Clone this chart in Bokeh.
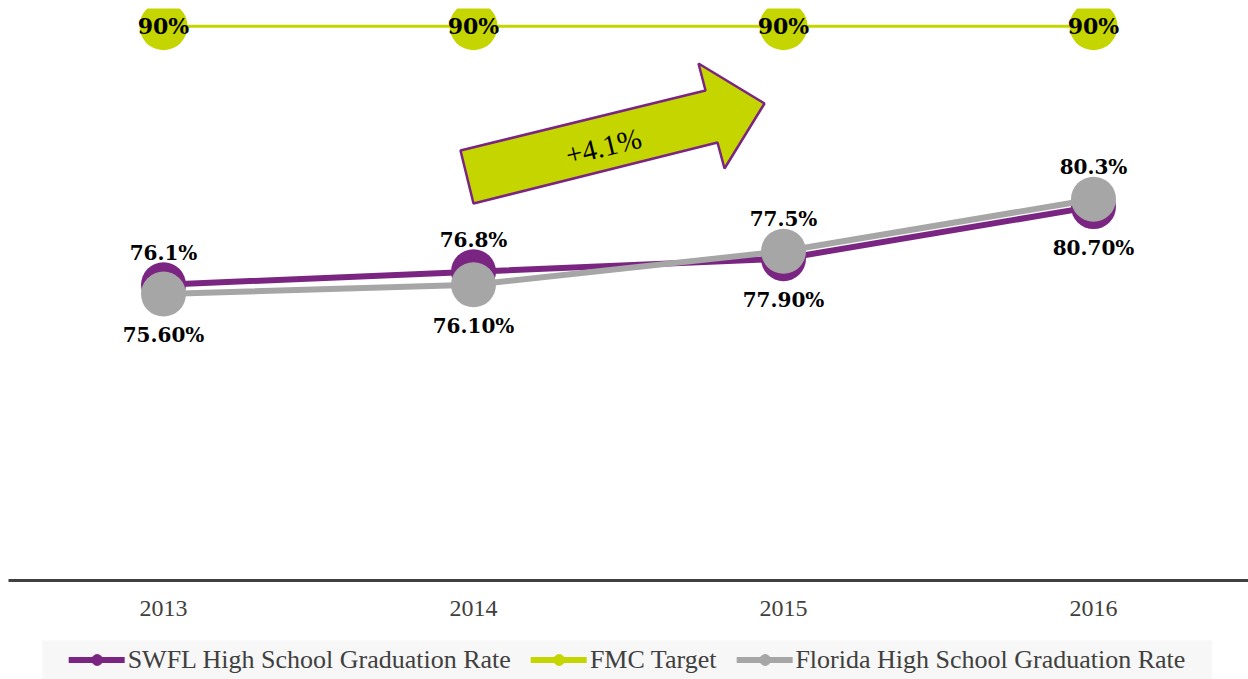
import numpy as np
from bokeh.plotting import figure
from bokeh.layouts import column, row
from bokeh.models import Range1d, FixedTicker, Legend, LegendItem, Spacer
from bokeh.core.properties import value
from bokeh.embed import file_html
from bokeh.resources import INLINE

# ---------------- data ----------------
years = [2013, 2014, 2015, 2016]
tick_labels = ["2013", "2014", "2015", "2016"]
swfl_rate = [76.1, 76.8, 77.5, 80.3]
florida_rate = [75.6, 76.1, 77.9, 80.7]
fmc_target = [90, 90, 90, 90]
swfl_labels = ["76.1%", "76.8%", "77.5%", "80.3%"]
florida_labels = ["75.60%", "76.10%", "77.90%", "80.70%"]
target_labels = ["90%", "90%", "90%", "90%"]
change_label = "+4.1%"
series_names = ["SWFL High School Graduation Rate", "FMC Target",
                "Florida High School Graduation Rate"]

# ---------------- style ----------------
PURPLE = "#7B2583"
LIME = "#C5D500"
GRAY = "#A6A6A6"
DARK = "#404040"
LEGEND_BG = "#F7F7F7"
SERIF = "Liberation Serif"
BOLD_SERIF = "DejaVu Serif"

X0, X1 = 2012.5, 2016.5
Y0, Y1 = 60.2, 90.95
FW, FH = 1240, 572
PAGE_LEFT, PAGE_TOP = 8, 8
BOTTOM_SPACE = 60

p = figure(frame_width=FW, frame_height=FH,
           x_range=Range1d(X0, X1), y_range=Range1d(Y0, Y1),
           output_backend="svg", toolbar_location=None,
           y_axis_location=None, min_border=0,
           min_border_left=PAGE_LEFT, min_border_top=PAGE_TOP,
           min_border_bottom=BOTTOM_SPACE)
p.outline_line_color = None
p.xgrid.visible = False
p.ygrid.visible = False
p.background_fill_color = "white"
p.border_fill_color = "white"

# x axis
ax = p.xaxis[0]
ax.ticker = FixedTicker(ticks=years)
ax.major_label_overrides = {y: t for y, t in zip(years, tick_labels)}
ax.axis_line_color = DARK
ax.axis_line_width = 3
ax.major_tick_line_color = None
ax.minor_tick_line_color = None
ax.major_label_text_font = SERIF
ax.major_label_text_font_size = "24px"
ax.major_label_text_color = DARK
ax.major_label_standoff = 14

# arrow annotation (shape given in page pixels, converted to data)
arrow_px = [(460, 150), (705, 90), (698, 63), (764, 103), (724, 168), (717, 142), (473, 203)]
def to_data(px, py):
    return (X0 + (px - PAGE_LEFT) / FW * (X1 - X0),
            Y0 + (PAGE_TOP + FH - py) / FH * (Y1 - Y0))
axs, ays = zip(*[to_data(a, b) for a, b in arrow_px])
p.patch(list(axs), list(ays), fill_color=LIME, line_color=PURPLE, line_width=2.5)
tx, ty = to_data(603, 146)
p.text(x=[tx], y=[ty], text=[change_label], angle=np.deg2rad(13.8),
       text_align="center", text_baseline="middle",
       text_font=value(SERIF), text_font_size="29px", text_color="black")

# target line
p.line(years, fmc_target, line_color=LIME, line_width=3)
p.scatter(years, fmc_target, size=48, fill_color=LIME, line_color=None)
p.text(x=years, y=fmc_target, text=target_labels, text_align="center",
       text_baseline="middle", text_font=value(BOLD_SERIF), text_font_style="bold",
       text_font_size="22px", text_color="black")

# SWFL line
p.line(years, swfl_rate, line_color=PURPLE, line_width=6)
p.scatter(years, swfl_rate, size=45, fill_color=PURPLE, line_color=None)
# Florida line
p.line(years, florida_rate, line_color=GRAY, line_width=6)
p.scatter(years, florida_rate, size=45, fill_color=GRAY, line_color=None)

upper = np.maximum(swfl_rate, florida_rate)
lower = np.minimum(swfl_rate, florida_rate)
p.text(x=years, y=list(upper), text=swfl_labels, text_align="center",
       text_baseline="middle", y_offset=-32, text_font=value(BOLD_SERIF),
       text_font_style="bold", text_font_size="20px", text_color="black")
p.text(x=years, y=list(lower), text=florida_labels, text_align="center",
       text_baseline="middle", y_offset=41, text_font=value(BOLD_SERIF),
       text_font_style="bold", text_font_size="20px", text_color="black")

# ---------------- legend strip (separate small figure) ----------------
lg = figure(width=1170, height=39, x_range=Range1d(0, 1), y_range=Range1d(0, 1),
            output_backend="svg", toolbar_location=None,
            x_axis_location=None, y_axis_location=None, min_border=0)
lg.outline_line_color = None
lg.xgrid.visible = False
lg.ygrid.visible = False
lg.border_fill_color = LEGEND_BG
lg.background_fill_color = LEGEND_BG

nan = float("nan")
items = []
for name, col in zip(series_names, [PURPLE, LIME, GRAY]):
    r1 = lg.line([0.0, 1.0], [nan, nan], line_color=col, line_width=6, line_cap="round")
    r2 = lg.scatter([0.5], [nan], size=12, fill_color=col, line_color=col)
    items.append(LegendItem(label=name, renderers=[r1, r2]))
legend = Legend(items=items, orientation="horizontal", location="center",
                label_text_font=SERIF, label_text_font_size="26px",
                label_text_color=DARK, background_fill_alpha=0.0,
                border_line_color=None,
                glyph_width=56, glyph_height=27, label_standoff=3,
                spacing=20, padding=6, margin=0)
lg.add_layout(legend, "center")

layout = column(p, row(Spacer(width=42, height=39), lg, spacing=0), spacing=0)
open("out.html", "w").write(file_html(layout, INLINE))
